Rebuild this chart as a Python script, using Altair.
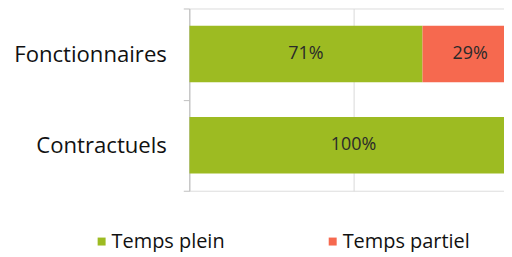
import altair as alt
import pandas as pd

categories = ["Fonctionnaires", "Contractuels"]
series = ["Temps plein", "Temps partiel"]
temps_plein = [71, 100]
temps_partiel = [29, 0]

rows = []
for i, c in enumerate(categories):
    rows.append({"cat": c, "serie": series[0], "ord": 0, "value": temps_plein[i]})
    rows.append({"cat": c, "serie": series[1], "ord": 1, "value": temps_partiel[i]})
df = pd.DataFrame(rows)

green = "#9dbb22"
red = "#f6694f"
font = "Open Sans"

base = alt.Chart(df).transform_stack(
    stack="value", groupby=["cat"], as_=["x0", "x1"], sort=[alt.SortField("ord")]
).transform_calculate(
    mid="(datum.x0 + datum.x1) / 2",
    lbl="datum.value + '%'"
)

xscale = alt.Scale(domain=[0, 95.8], nice=False, zero=True)
yscale = alt.Scale(domain=categories, paddingInner=0, paddingOuter=0)

bars = base.mark_bar(clip=True, height={"band": 0.62}).encode(
    x=alt.X("x0:Q", scale=xscale, title=None,
            axis=alt.Axis(values=[0, 50], labels=False, ticks=False, domain=False,
                          grid=True, gridColor="#d9d9d9", gridWidth=1)),
    x2="x1:Q",
    y=alt.Y("cat:N", scale=yscale, sort=categories, title=None,
            axis=alt.Axis(tickBand="extent", tickSize=6, tickColor="#bfbfbf",
                          domainColor="#bfbfbf", labelFont=font, labelFontSize=22.2,
                          labelColor="#111", labelPadding=17)),
    color=alt.Color("serie:N", scale=alt.Scale(domain=series, range=[green, red]),
                    title=None,
                    legend=alt.Legend(orient="none", legendX=-98, legendY=224,
                                      direction="horizontal", symbolType="square",
                                      symbolSize=64, labelFont=font, labelFontSize=20,
                                      labelColor="#111", columnPadding=98, padding=0,
                                      symbolOffset=0, labelOffset=0)),
    order=alt.Order("ord:Q")
)

texts = base.transform_filter("datum.value > 0").mark_text(
    font=font, fontSize=18, color="#2a2a2a", clip=True
).encode(
    x=alt.X("mid:Q", scale=xscale),
    y=alt.Y("cat:N", scale=yscale, sort=categories),
    text="lbl:N"
)

chart = alt.layer(bars, texts).properties(
    width=316, height=183
).configure_view(stroke=None).configure(padding={"left": 5, "top": -11, "right": 0, "bottom": 0})

chart.save("out.html", embed_options={"renderer": "svg", "actions": False})
